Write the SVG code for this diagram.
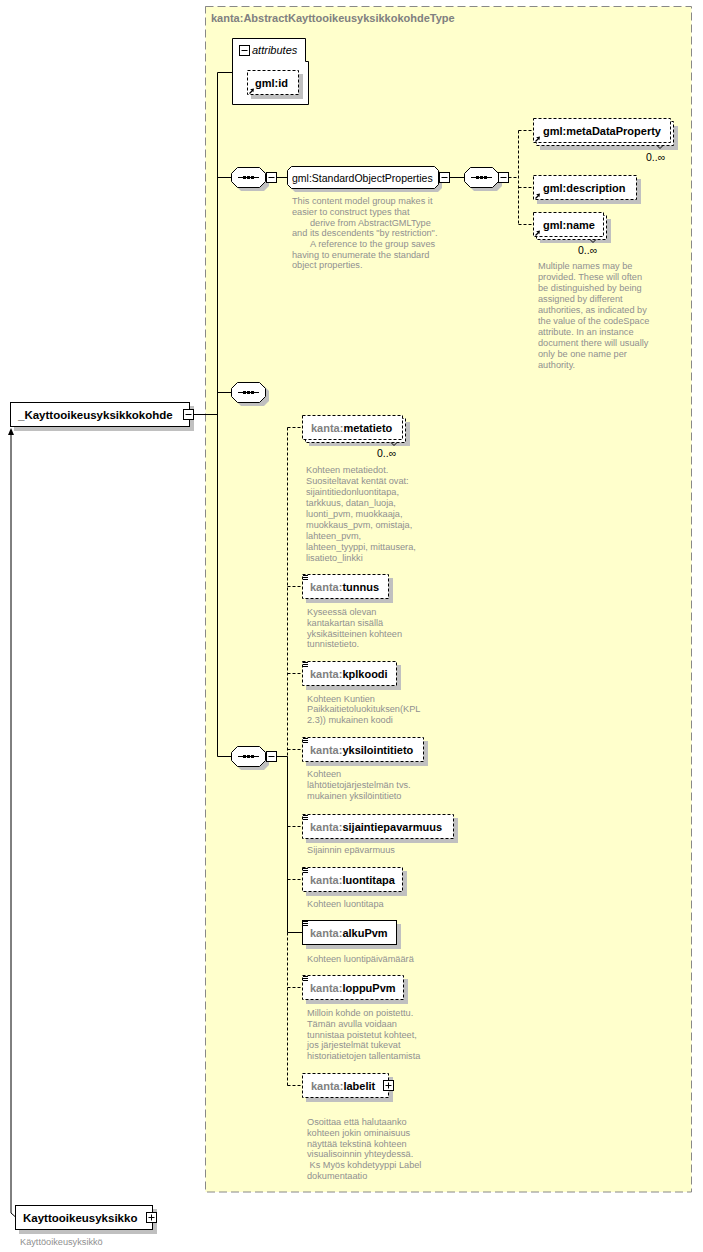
<svg xmlns="http://www.w3.org/2000/svg" xmlns:xlink="http://www.w3.org/1999/xlink" width="703" height="1252" viewBox="0 0 703 1252">
<style>
.bg{fill:#ffffcc;stroke:#888;stroke-width:1;stroke-dasharray:8,4}
.box{fill:#fff;stroke:#000;stroke-width:1}
.dbox{fill:#fff;stroke:#000;stroke-width:1;stroke-dasharray:3,2}
.sh{fill:#c0c0c0}
.ln{stroke:#000;stroke-width:1;fill:none}
.dl{stroke:#000;stroke-width:1;fill:none;stroke-dasharray:3,2}
.lbl{font-family:"Liberation Sans",Arial,sans-serif;font-size:11px;font-weight:bold;fill:#000}
.big{font-family:"Liberation Sans",Arial,sans-serif;font-size:11.5px;font-weight:bold;fill:#000}
.ns{fill:#808080}
.title{font-family:"Liberation Sans",Arial,sans-serif;font-size:11px;font-weight:bold;fill:#808080}
.grp{font-family:"Liberation Sans",Arial,sans-serif;font-size:10.5px;fill:#000}
.it{font-family:"Liberation Sans",Arial,sans-serif;font-size:11px;font-style:italic;fill:#000}
.occ{font-family:"Liberation Sans",Arial,sans-serif;font-size:10.5px;fill:#000}
.desc{font-family:"Liberation Sans",Arial,sans-serif;font-size:9.2px;fill:#909090}
</style>
<defs>
<g id="seq">
<path class="sh" d="M9,4 H32 L37,9 V19 L32,24 H9 L4,19 V9 Z"/>
<path class="box" d="M5.5,0.5 H27.5 L33.5,6.5 V14.5 L27.5,20.5 H5.5 L-0.5,14.5 V6.5 Z"/>
<path class="ln" d="M6,10.5 H27"/>
<rect x="11" y="9" width="3" height="3" fill="#000"/>
<rect x="15" y="9" width="3" height="3" fill="#000"/>
<rect x="19" y="9" width="3" height="3" fill="#000"/>
</g>
<g id="minus">
<rect class="box" x="0.5" y="0.5" width="10" height="10"/>
<path class="ln" d="M2.5,5.5 H8.5"/>
</g>
<g id="plus">
<rect class="box" x="0.5" y="0.5" width="10" height="10"/>
<path class="ln" d="M2.5,5.5 H8.5 M5.5,2.5 V8.5"/>
</g>
<g id="refArrow">
<path d="M1.5,6.5 L4,4" stroke="#000" stroke-width="1.3" fill="none"/>
<path d="M6,1.5 L2.2,2.2 L5.3,5.3 Z" fill="#000"/>
</g>
<g id="simple">
<path class="ln" d="M0,0.5 H5 M0,2.5 H5 M0,4.5 H5"/>
</g>
</defs>

<rect id="typeBox" class="bg" x="205.5" y="6.5" width="486" height="1185.5"/>
<text class="title" x="211" y="22">kanta:AbstractKayttooikeusyksikkokohdeType</text>

<g id="connectors">
<path class="ln" d="M11,1213 V433 M11,1213 L15,1216.5"/>
<path d="M11,428 L8,435 H14 Z" fill="#000"/>
<path class="ln" d="M193.5,414.5 H217.5 M217.5,72.5 V756.5 M217.5,72.5 H232.5 M217.5,177.5 H232 M276.5,177.5 H287.5 M449.5,177.5 H465 M217.5,392.5 H232 M217.5,756.5 H232 M276.5,756.5 H287.5"/>
<path class="dl" d="M508.5,177.5 H518.5 M518.5,130.5 V224.5 M518.5,130.5 H533 M518.5,187.5 H533 M518.5,224.5 H533"/>
<path class="dl" d="M287.5,427.5 V1085.5 M287.5,427.5 H302 M287.5,586.5 H302 M287.5,673.5 H302 M287.5,749.5 H302 M287.5,826.5 H302 M287.5,879.5 H302 M287.5,987.5 H302 M287.5,1085.5 H302"/>
<path class="ln" d="M287.5,756.5 V932.5 H302"/>
</g>

<g id="mainElement">
<rect class="sh" x="14" y="406" width="180" height="25"/>
<rect class="box" x="10.5" y="402.5" width="179" height="24"/>
<text class="big" x="18" y="419">_Kayttooikeusyksikkokohde</text>
<use href="#minus" x="183" y="409"/>
</g>

<g id="derivedElement">
<rect class="sh" x="19" y="1209" width="138" height="25"/>
<rect class="box" x="15.5" y="1205.5" width="137" height="24"/>
<text class="big" x="23" y="1222">Kayttooikeusyksikko</text>
<use href="#plus" x="146" y="1212"/>
<text class="desc" x="20" y="1245">Käyttöoikeusyksikkö</text>
</g>

<g id="attributes">
<path class="box" d="M232.5,38.5 H305.5 V61.5 H308.5 V104.5 H232.5 Z"/>
<use href="#minus" x="239" y="45"/>
<text class="it" x="252" y="54">attributes</text>
</g>

<g id="gmlId">
<rect class="sh" x="251" y="74" width="52" height="25"/>
<rect class="dbox" x="247.5" y="70.5" width="51" height="24"/>
<use href="#refArrow" x="248" y="87"/>
<text class="lbl" x="255" y="87">gml:id</text>
</g>

<g id="seq1">
<use href="#seq" x="232" y="167"/>
<use href="#minus" x="266" y="172"/>
</g>

<g id="standardObjectProperties">
<path class="sh" d="M295,170 H438 L442,174 V188 L438,192 H295 L291,188 V174 Z"/>
<path class="box" d="M291.5,166.5 H434.5 L438.5,170.5 V184.5 L434.5,188.5 H291.5 L287.5,184.5 V170.5 Z"/>
<text class="grp" x="292" y="182">gml:StandardObjectProperties</text>
<use href="#minus" x="439" y="172"/>
<text class="desc" x="292" y="204">This content model group makes it</text>
<text class="desc" x="292" y="215">easier to construct types that</text>
<text class="desc" x="310" y="225.5">derive from AbstractGMLType</text>
<text class="desc" x="292" y="236">and its descendents "by restriction".</text>
<text class="desc" x="310" y="246.5">A reference to the group saves</text>
<text class="desc" x="292" y="257.5">having to enumerate the standard</text>
<text class="desc" x="292" y="268">object properties.</text>
</g>

<g id="seq2">
<use href="#seq" x="465" y="167"/>
<use href="#minus" x="498" y="172"/>
</g>

<g id="metaDataProperty">
<rect class="sh" x="540" y="126" width="138" height="24"/>
<rect class="dbox" x="536.5" y="121.5" width="137" height="24"/>
<rect class="dbox" x="533.5" y="118.5" width="137" height="24"/>
<path class="ln" d="M657,145.5 L660,148.5 L663,145.5"/>
<use href="#refArrow" x="534" y="135"/>
<text class="lbl" x="543" y="135">gml:metaDataProperty</text>
<text class="occ" x="646" y="161">0..∞</text>
</g>

<g id="description">
<rect class="sh" x="537" y="179" width="104" height="25"/>
<rect class="dbox" x="533.5" y="175.5" width="103" height="24"/>
<use href="#refArrow" x="534" y="192"/>
<text class="lbl" x="543" y="192">gml:description</text>
</g>

<g id="gmlName">
<rect class="sh" x="540" y="219" width="71" height="24"/>
<rect class="dbox" x="536.5" y="215.5" width="70" height="24"/>
<rect class="dbox" x="533.5" y="212.5" width="70" height="24"/>
<path class="ln" d="M590,239.5 L593,242.5 L596,239.5"/>
<use href="#refArrow" x="534" y="229"/>
<text class="lbl" x="543" y="229">gml:name</text>
<text class="occ" x="578" y="254">0..∞</text>
<text class="desc" x="538" y="269">Multiple names may be</text>
<text class="desc" x="538" y="280">provided.  These will often</text>
<text class="desc" x="538" y="291">be distinguished by being</text>
<text class="desc" x="538" y="302">assigned by different</text>
<text class="desc" x="538" y="313">authorities, as indicated by</text>
<text class="desc" x="538" y="324">the value of the codeSpace</text>
<text class="desc" x="538" y="335">attribute.  In an instance</text>
<text class="desc" x="538" y="346">document there will usually</text>
<text class="desc" x="538" y="357">only be one name per</text>
<text class="desc" x="538" y="368">authority.</text>
</g>

<g id="seq3">
<use href="#seq" x="232" y="382"/>
</g>

<g id="seq4">
<use href="#seq" x="232" y="746"/>
<use href="#minus" x="266" y="751"/>
</g>

<g id="metatieto">
<rect class="sh" x="309" y="422" width="101" height="24"/>
<rect class="dbox" x="305.5" y="418.5" width="100" height="24"/>
<rect class="dbox" x="302.5" y="415.5" width="100" height="24"/>
<path class="ln" d="M391,442.5 L394,445.5 L397,442.5"/>
<text class="lbl" x="311" y="432"><tspan class="ns">kanta:</tspan>metatieto</text>
<text class="occ" x="377" y="457">0..∞</text>
<text class="desc" x="306" y="473">Kohteen metatiedot.</text>
<text class="desc" x="306" y="484">Suositeltavat kentät ovat:</text>
<text class="desc" x="306" y="495">sijaintitiedonluontitapa,</text>
<text class="desc" x="306" y="506">tarkkuus, datan_luoja,</text>
<text class="desc" x="306" y="517">luonti_pvm, muokkaaja,</text>
<text class="desc" x="306" y="528">muokkaus_pvm, omistaja,</text>
<text class="desc" x="306" y="539">lahteen_pvm,</text>
<text class="desc" x="306" y="550">lahteen_tyyppi, mittausera,</text>
<text class="desc" x="306" y="561">lisatieto_linkki</text>
</g>

<g id="tunnus">
<rect class="sh" x="306" y="578" width="87" height="25"/>
<rect class="dbox" x="302.5" y="574.5" width="86" height="24"/>
<use href="#simple" x="303" y="575"/>
<text class="lbl" x="310" y="591"><tspan class="ns">kanta:</tspan>tunnus</text>
<text class="desc" x="307" y="614.5">Kyseessä olevan</text>
<text class="desc" x="307" y="625.5">kantakartan sisällä</text>
<text class="desc" x="307" y="636.5">yksikäsitteinen kohteen</text>
<text class="desc" x="307" y="647">tunnistetieto.</text>
</g>

<g id="kplkoodi">
<rect class="sh" x="306" y="665" width="95" height="25"/>
<rect class="dbox" x="302.5" y="661.5" width="94" height="24"/>
<use href="#simple" x="303" y="662"/>
<text class="lbl" x="310" y="678"><tspan class="ns">kanta:</tspan>kplkoodi</text>
<text class="desc" x="307" y="701.5">Kohteen Kuntien</text>
<text class="desc" x="307" y="712">Paikkaitietoluokituksen(KPL</text>
<text class="desc" x="307" y="722.5">2.3)) mukainen koodi</text>
</g>

<g id="yksilointitieto">
<rect class="sh" x="306" y="741" width="122" height="25"/>
<rect class="dbox" x="302.5" y="737.5" width="121" height="24"/>
<use href="#simple" x="303" y="738"/>
<text class="lbl" x="310" y="754"><tspan class="ns">kanta:</tspan>yksilointitieto</text>
<text class="desc" x="307" y="776.5">Kohteen</text>
<text class="desc" x="307" y="787.5">lähtötietojärjestelmän  tvs.</text>
<text class="desc" x="307" y="799">mukainen yksilöintitieto</text>
</g>

<g id="sijaintiepavarmuus">
<rect class="sh" x="306" y="818" width="152" height="25"/>
<rect class="dbox" x="302.5" y="814.5" width="151" height="24"/>
<use href="#simple" x="303" y="815"/>
<text class="lbl" x="310" y="831"><tspan class="ns">kanta:</tspan>sijaintiepavarmuus</text>
<text class="desc" x="307" y="852.5">Sijainnin epävarmuus</text>
</g>

<g id="luontitapa">
<rect class="sh" x="306" y="871" width="101" height="25"/>
<rect class="dbox" x="302.5" y="867.5" width="100" height="24"/>
<use href="#simple" x="303" y="868"/>
<text class="lbl" x="310" y="884"><tspan class="ns">kanta:</tspan>luontitapa</text>
<text class="desc" x="307" y="906.5">Kohteen luontitapa</text>
</g>

<g id="alkuPvm">
<rect class="sh" x="306" y="924" width="95" height="25"/>
<rect class="box" x="302.5" y="920.5" width="94" height="24"/>
<use href="#simple" x="303" y="921"/>
<text class="lbl" x="310" y="937"><tspan class="ns">kanta:</tspan>alkuPvm</text>
<text class="desc" x="307" y="961.5">Kohteen luontipäivämäärä</text>
</g>

<g id="loppuPvm">
<rect class="sh" x="306" y="979" width="102" height="25"/>
<rect class="dbox" x="302.5" y="975.5" width="101" height="24"/>
<use href="#simple" x="303" y="976"/>
<text class="lbl" x="310" y="992"><tspan class="ns">kanta:</tspan>loppuPvm</text>
<text class="desc" x="307" y="1015.5">Milloin kohde on poistettu.</text>
<text class="desc" x="307" y="1026.5">Tämän avulla voidaan</text>
<text class="desc" x="307" y="1037.5">tunnistaa poistetut kohteet,</text>
<text class="desc" x="307" y="1048">jos järjestelmät tukevat</text>
<text class="desc" x="307" y="1058.5">historiatietojen tallentamista</text>
</g>

<g id="labelit">
<rect class="sh" x="306" y="1077" width="87" height="25"/>
<rect class="dbox" x="302.5" y="1073.5" width="86" height="24"/>
<text class="lbl" x="311" y="1090"><tspan class="ns">kanta:</tspan>labelit</text>
<use href="#plus" x="383" y="1080"/>
<text class="desc" x="307" y="1124.5">Osoittaa että halutaanko</text>
<text class="desc" x="307" y="1135.5">kohteen jokin ominaisuus</text>
<text class="desc" x="307" y="1146.5">näyttää tekstinä kohteen</text>
<text class="desc" x="307" y="1157">visualisoinnin yhteydessä.</text>
<text class="desc" x="307" y="1168" xml:space="preserve"> Ks Myös kohdetyyppi Label</text>
<text class="desc" x="307" y="1179">dokumentaatio</text>
</g>
</svg>
